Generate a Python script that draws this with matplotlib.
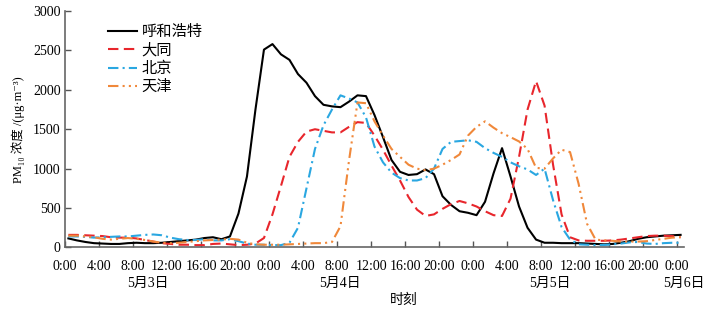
import numpy as np
import matplotlib
matplotlib.use("Agg")
import matplotlib.pyplot as plt

plt.rcParams['font.family'] = ['Liberation Serif', 'Noto Sans CJK SC', 'DejaVu Serif']

# hourly PM10, 0:00 on 5/3 to 0:00 on 5/6
hours = np.arange(73)

hohhot = [115, 90, 70, 55, 50, 45, 45, 55, 60, 55,
          55, 60, 70, 80, 90, 100, 120, 130, 105, 140,
          430, 900, 1750, 2510, 2580, 2450, 2380, 2200, 2090, 1920,
          1810, 1790, 1780, 1850, 1930, 1920, 1680, 1400, 1110, 960,
          920, 930, 990, 930, 650, 540, 460, 440, 410, 580,
          940, 1260, 900, 520, 250, 100, 60, 60, 55, 55,
          55, 50, 45, 40, 45, 60, 80, 110, 130, 140,
          150, 155, 160]

datong = [160, 160, 155, 150, 145, 130, 125, 125, 115, 95,
          75, 55, 45, 35, 35, 30, 30, 45, 50, 40,
          30, 35, 50, 120, 420, 780, 1150, 1340, 1470, 1500,
          1480, 1460, 1460, 1530, 1590, 1580, 1420, 1240, 1040, 850,
          640, 480, 400, 420, 490, 550, 590, 560, 520, 460,
          410, 400, 620, 1150, 1750, 2110, 1800, 1050, 420, 130,
          90, 85, 85, 85, 90, 100, 115, 130, 145, 150,
          150, 145, 130]

beijing = [140, 140, 135, 125, 130, 135, 140, 140, 150, 160,
           165, 155, 125, 105, 95, 95, 105, 90, 90, 105,
           80, 50, 35, 35, 30, 30, 60, 250, 750, 1250,
           1550, 1750, 1930, 1890, 1840, 1650, 1280, 1080, 950, 880,
           850, 850, 880, 1000, 1250, 1340, 1350, 1360, 1340, 1260,
           1200, 1150, 1080, 1030, 990, 920, 1000, 600, 260, 100,
           40, 35, 30, 32, 40, 50, 65, 70, 50, 45,
           55, 60, 60]

tianjin = [150, 150, 140, 130, 110, 100, 110, 120, 110, 95,
           75, 60, 55, 60, 70, 80, 90, 95, 100, 110,
           100, 60, 40, 35, 35, 35, 40, 45, 50, 55,
           55, 70, 270, 1100, 1840, 1830, 1600, 1420, 1250, 1150,
           1050, 1000, 980, 1000, 1050, 1110, 1180, 1420, 1530, 1600,
           1520, 1450, 1400, 1345, 1250, 1010, 1000, 1130, 1240, 1210,
           810, 300, 100, 90, 85, 75, 75, 75, 80, 95,
           110, 125, 130]

tick_labels = ['0:00', '4:00', '8:00', '12:00', '16:00', '20:00'] * 3 + ['0:00']
day_labels = ['5月3日', '5月4日', '5月5日', '5月6日']

fig = plt.figure(figsize=(7.08, 3.13), dpi=100)
ax = fig.add_axes([0.0918, 0.2093, 0.8743, 0.7556])

ax.plot(hours, hohhot, color='black', lw=1.5, label='呼和浩特')
ax.plot(hours, datong, color='#e8262c', lw=1.5, ls=(0, (5, 2.6)), label='大同')
ax.plot(hours, beijing, color='#2aa7e1', lw=1.5, ls=(0, (5, 2, 1, 2)), label='北京')
ax.plot(hours, tianjin, color='#f0883a', lw=1.5, ls=(0, (5, 2, 1, 2, 1, 2)), label='天津')

ax.set_xlim(-0.4, 72.4)
ax.set_ylim(0, 3000)
ax.set_xticks(np.arange(0, 73, 4) - 0.4)
ax.set_xticklabels(tick_labels)
ax.set_yticks(np.arange(0, 3001, 500))
ax.tick_params(direction='in', length=4, width=1, color='#555555', labelsize=10)
ax.tick_params(axis='x', pad=9)
ax.tick_params(axis='y', pad=3)
for s in ['top', 'right']:
    ax.spines[s].set_visible(False)
for s in ['left', 'bottom']:
    ax.spines[s].set_color('#666666')
    ax.spines[s].set_linewidth(1.2)

ax.set_ylabel('PM₁₀ 浓度 /(μg·m⁻³)', fontsize=9, labelpad=6)

for x, lab in zip([148, 340, 550, 684], day_labels):
    fig.text(x / 708, 1 - 283 / 313, lab, ha='center', va='center', fontsize=10)
fig.text(404 / 708, 1 - 300 / 313, '时刻', ha='center', va='center', fontsize=10)

ax.legend(loc='upper left', bbox_to_anchor=(0.069, 0.94), frameon=False,
          fontsize=11, handlelength=1.9, handletextpad=0.33, labelspacing=0.26,
          borderpad=0, borderaxespad=0)

fig.savefig('out.png', dpi=100)
